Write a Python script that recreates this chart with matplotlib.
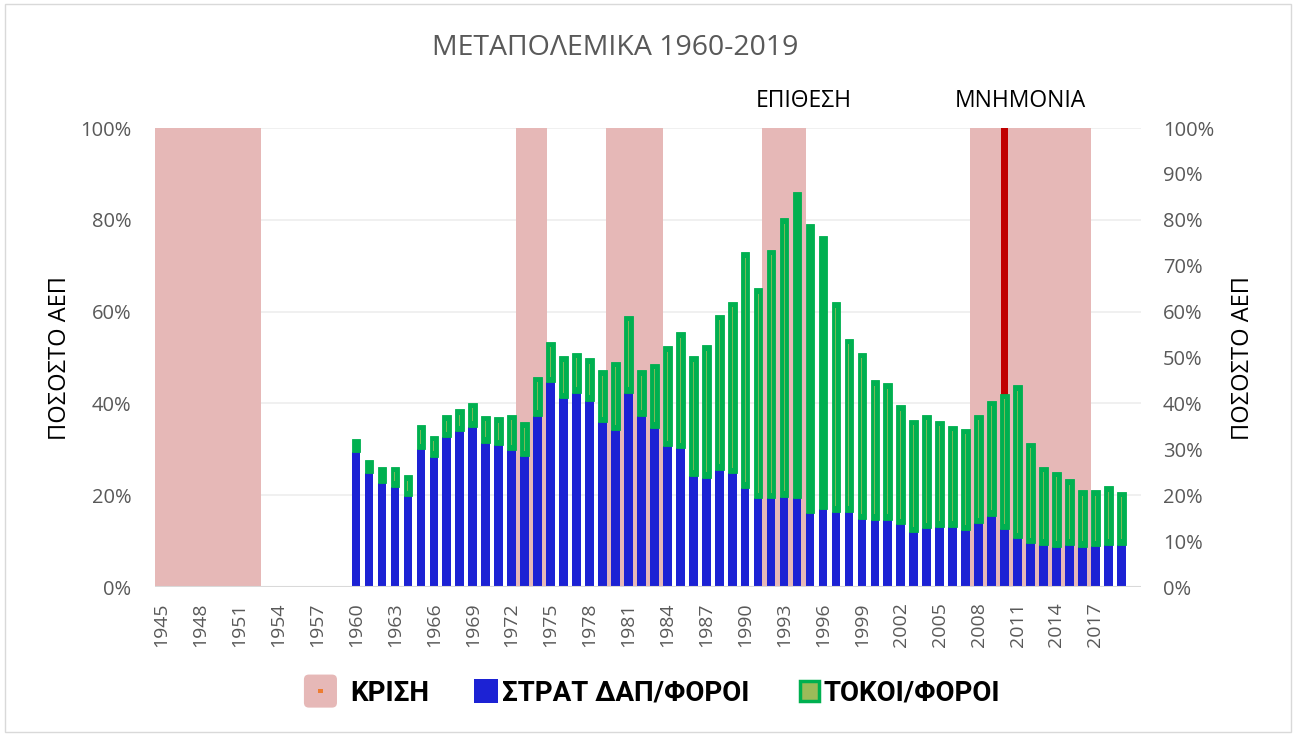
import numpy as np
import matplotlib
matplotlib.use("Agg")
import matplotlib.pyplot as plt
from matplotlib.patches import Rectangle, FancyBboxPatch
from matplotlib.lines import Line2D
from matplotlib.legend_handler import HandlerBase
import matplotlib.transforms as mtransforms

plt.rcParams['font.family'] = ['Open Sans', 'DejaVu Sans']

# --- data ---
years = list(range(1945, 2020))
data_years = list(range(1960, 2020))

# military spending / taxes (% , blue)
strat = [29.5, 24.9, 22.7, 21.9, 19.8, 30.0, 28.4, 32.6, 33.9, 34.9,
         31.4, 30.9, 29.8, 28.5, 37.3, 44.6, 41.1, 42.3, 40.6, 35.9,
         34.2, 42.3, 37.3, 34.7, 30.7, 30.2, 24.2, 23.8, 25.5, 24.8,
         21.6, 19.3, 19.3, 19.7, 19.3, 16.2, 16.9, 16.4, 16.4, 14.8,
         14.7, 14.7, 13.7, 11.9, 12.8, 13.1, 13.1, 12.4, 13.9, 15.5,
         12.6, 10.6, 9.5, 9.2, 8.8, 9.2, 8.8, 8.9, 9.2, 9.2]

# interest / taxes (%, green)
tokoi = [2.7, 2.8, 3.4, 4.3, 4.6, 5.4, 4.6, 4.8, 4.8, 5.2,
         5.9, 6.1, 7.7, 7.4, 8.5, 8.8, 9.2, 8.7, 9.2, 11.3,
         14.9, 16.8, 9.9, 14.0, 21.8, 25.3, 26.1, 28.9, 33.8, 37.4,
         51.3, 45.8, 54.2, 60.6, 66.8, 62.9, 59.5, 45.6, 37.7, 36.3,
         30.4, 29.7, 25.9, 24.6, 24.7, 23.1, 22.0, 22.1, 23.6, 25.1,
         29.5, 33.4, 21.9, 17.0, 16.3, 14.3, 12.3, 12.2, 12.8, 11.6]

crisis_years = list(range(1945, 1953)) + [1973, 1974] + list(range(1980, 1984)) \
    + [1992, 1993, 1994] + list(range(2008, 2017))
memorandum_year = 2010

notes = {"ΕΠΙΘΕΣΗ": 1994.5, "ΜΝΗΜΟΝΙΑ": 2011.2}

# --- colours ---
c_crisis = '#e6b8b7'
c_blue = '#1c22d4'
c_green = '#00b050'
c_olive = '#9bbb59'
c_red = '#c00000'
c_tick = '#595959'

fig = plt.figure(figsize=(12.96, 7.36), dpi=100)
fig.patches.append(Rectangle((0.004, 0.006), 0.992, 0.988, transform=fig.transFigure,
                             fill=False, edgecolor='#d9d9d9', linewidth=1))
ax = fig.add_axes([0.1196, 0.2024, 0.7606, 0.6236])

idx = {y: i for i, y in enumerate(years)}
x_data = np.array([idx[y] for y in data_years])
strat = np.array(strat)
tokoi = np.array(tokoi)

# crisis bands
ax.bar([idx[y] for y in crisis_years], 100, width=1.4, color=c_crisis,
       linewidth=0, zorder=1)
# memorandum line
ax.bar(idx[memorandum_year], 100, width=0.5, color=c_red, linewidth=0, zorder=2)

# grid
for g in range(20, 101, 20):
    ax.axhline(g, color='#efefef', linewidth=1.3, zorder=0.5)

bw = 0.67
ax.bar(x_data, strat, width=bw, color=c_blue, linewidth=0, zorder=3)
ax.bar(x_data, tokoi, bottom=strat, width=bw, color=c_green,
       edgecolor=c_green, linewidth=0.6, zorder=3)
# thin inner line of the green fill
inset = 1.2
ax.bar(x_data, np.maximum(tokoi - 2 * inset, 0), bottom=strat + inset,
       width=0.07, color=c_olive, linewidth=0, zorder=4, alpha=0.8)

ax.axhline(0, color='#d9d9d9', linewidth=1.5, zorder=5)

ax.set_xlim(-0.5, 75.5)
ax.set_ylim(0, 100)
for s in ax.spines.values():
    s.set_visible(False)

ax.set_xticks([idx[y] for y in years[::3]])
ax.set_xticklabels([str(y) for y in years[::3]], rotation=90, color=c_tick, fontsize=14)
ax.tick_params(axis='x', length=0, pad=11)
ax.set_yticks(range(0, 101, 20))
ax.set_yticklabels([f'{v}%' for v in range(0, 101, 20)], color=c_tick, fontsize=14.5)
ax.tick_params(axis='y', length=0, pad=17)
ax.set_ylabel('ΠΟΣΟΣΤΟ ΑΕΠ', fontsize=17, color='black', labelpad=6)

ax2 = ax.twinx()
ax2.set_ylim(0, 100)
for s in ax2.spines.values():
    s.set_visible(False)
ax2.set_yticks(range(0, 101, 10))
ax2.set_yticklabels([f'{v}%' for v in range(0, 101, 10)], color=c_tick, fontsize=14.5)
ax2.tick_params(axis='y', length=0, pad=16)
ax2.set_ylabel('ΠΟΣΟΣΤΟ ΑΕΠ', fontsize=17, color='black', rotation=90, labelpad=12)

trans = mtransforms.blended_transform_factory(ax.transData, ax.transAxes)
for txt, yr in notes.items():
    ax.text(yr - 1945, 1.058, txt, transform=trans, ha='center', va='center',
            fontsize=16.5, color='black')

fig.text(0.4745, 0.935, 'ΜΕΤΑΠΟΛΕΜΙΚΑ 1960-2019', ha='center', va='center',
         fontsize=20.5, color=c_tick)


# legend
class CrisisHandler(HandlerBase):
    def create_artists(self, legend, orig, x0, y0, width, height, fontsize, trans):
        s = height * 1.7
        box = FancyBboxPatch((x0, y0 + (height - s) / 2), s, s,
                             boxstyle='round,pad=0,rounding_size=%f' % (s * 0.15),
                             facecolor=c_crisis, edgecolor='none', transform=trans)
        dot = Rectangle((x0 + s / 2 - 1.5, y0 + height / 2 - 1.5), 3, 3,
                        facecolor='#ed7d31', edgecolor='none', transform=trans)
        return [box, dot]


class BoxHandler(HandlerBase):
    def __init__(self, face, edge, lw, k):
        super().__init__()
        self.face, self.edge, self.lw, self.k = face, edge, lw, k

    def create_artists(self, legend, orig, x0, y0, width, height, fontsize, trans):
        s = height * self.k
        r = Rectangle((x0 + width - s, y0 + (height - s) / 2), s, s,
                      facecolor=self.face, edgecolor=self.edge, linewidth=self.lw,
                      transform=trans)
        return [r]


h1, h2, h3 = Line2D([], []), Line2D([], []), Line2D([], [])
leg = fig.legend([h1, h2, h3], ['ΚΡΙΣΗ', 'ΣΤΡΑΤ ΔΑΠ/ΦΟΡΟΙ', 'ΤΟΚΟΙ/ΦΟΡΟΙ'],
                 handler_map={h1: CrisisHandler(),
                              h2: BoxHandler(c_blue, c_blue, 0, 1.25),
                              h3: BoxHandler(c_olive, c_green, 2.5, 1.0)},
                 loc='center', bbox_to_anchor=(0.503, 0.058), ncol=3, frameon=False,
                 prop={'weight': 'bold', 'size': 20, 'family': ['Roboto', 'DejaVu Sans']},
                 handlelength=1.5, handletextpad=0.15, columnspacing=1.0)

fig.savefig('out.png', dpi=100)
